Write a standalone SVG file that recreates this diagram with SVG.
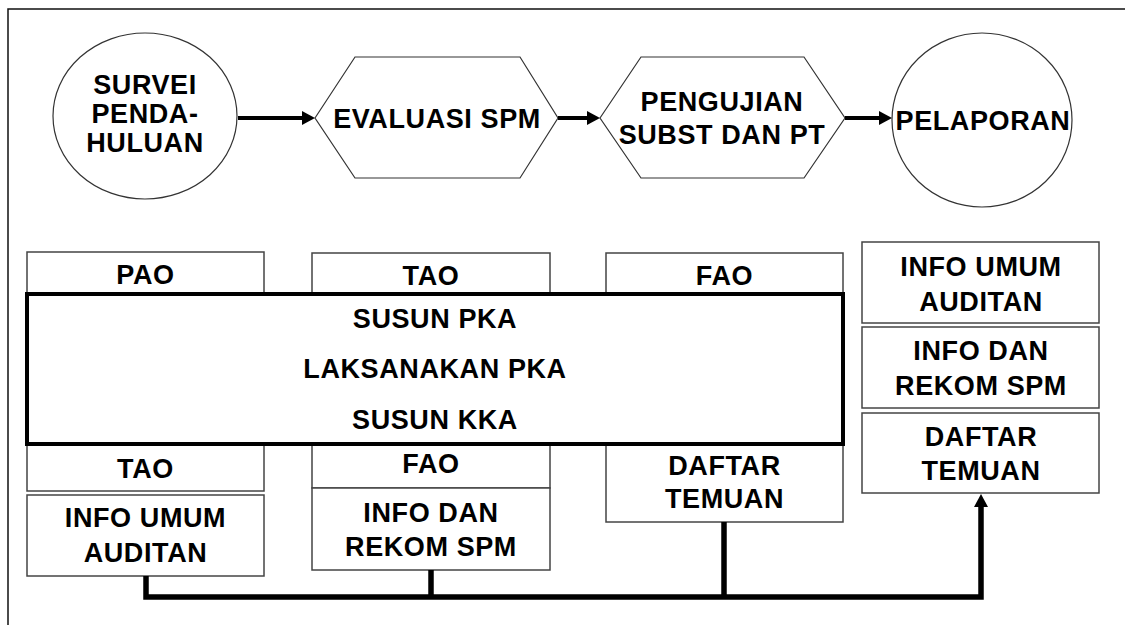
<svg xmlns="http://www.w3.org/2000/svg" width="1125" height="625" viewBox="0 0 1125 625">
<style>
text{font-family:"Liberation Sans",Arial,sans-serif;font-weight:bold;font-size:27px;fill:#000;text-anchor:middle;letter-spacing:0.6px}
.shape{fill:#fff;stroke:#333;stroke-width:1.2}
.box{fill:#fff;stroke:#444;stroke-width:1.5}
.main{fill:#fff;stroke:#000;stroke-width:4}
.arrow{fill:none;stroke:#000;stroke-width:4}
.bus{fill:none;stroke:#000;stroke-width:5.5;stroke-linejoin:miter}
</style>
<defs>
<marker id="ah" markerUnits="userSpaceOnUse" markerWidth="14" markerHeight="14" refX="0" refY="7" orient="auto">
<path d="M0,0 L13,7 L0,14 z" fill="#000"/>
</marker>
</defs>
<rect x="0" y="0" width="1125" height="625" fill="#fff"/>
<rect x="8" y="9" width="1130" height="630" fill="none" stroke="#111" stroke-width="1.5"/>

<g id="survei">
<ellipse class="shape" cx="145" cy="116" rx="92" ry="83"/>
<text x="145" y="94">SURVEI</text>
<text x="145" y="123">PENDA-</text>
<text x="145" y="152">HULUAN</text>
</g>
<g id="evaluasi">
<polygon class="shape" points="315,118 355,57 520,57 558,118 520,178 355,178"/>
<text x="437" y="128">EVALUASI SPM</text>
</g>
<g id="pengujian">
<polygon class="shape" points="600,118 641,57 804,57 845,118 804,178 641,178"/>
<text x="722" y="111">PENGUJIAN</text>
<text x="722" y="144">SUBST DAN PT</text>
</g>
<g id="pelaporan">
<ellipse class="shape" cx="982" cy="120" rx="90" ry="87"/>
<text x="983" y="130">PELAPORAN</text>
</g>

<g id="top-pao"><rect class="box" x="27" y="252" width="237" height="44"/><text x="145.5" y="284">PAO</text></g>
<g id="top-tao"><rect class="box" x="312" y="253" width="238" height="43"/><text x="431" y="285">TAO</text></g>
<g id="top-fao"><rect class="box" x="606" y="253" width="237" height="43"/><text x="724.5" y="285">FAO</text></g>

<g id="bot-tao"><rect class="box" x="27" y="440" width="237" height="51"/><text x="145.5" y="478">TAO</text></g>
<g id="bot-info-umum"><rect class="box" x="27" y="495" width="237" height="81"/><text x="145.5" y="527">INFO UMUM</text><text x="145.5" y="562">AUDITAN</text></g>
<g id="bot-fao"><rect class="box" x="312" y="440" width="238" height="48"/><text x="431" y="473">FAO</text></g>
<g id="bot-info-dan"><rect class="box" x="312" y="488" width="238" height="82"/><text x="431" y="522">INFO DAN</text><text x="431" y="556">REKOM SPM</text></g>
<g id="bot-daftar"><rect class="box" x="606" y="440" width="237" height="82"/><text x="724.5" y="475">DAFTAR</text><text x="724.5" y="508">TEMUAN</text></g>

<g id="main-box">
<rect class="main" x="27" y="294" width="816" height="150"/>
<text x="435" y="328">SUSUN PKA</text>
<text x="435" y="378">LAKSANAKAN PKA</text>
<text x="435" y="429">SUSUN KKA</text>
</g>

<g id="right-info-umum"><rect class="box" x="862" y="242" width="237" height="81"/><text x="981" y="276">INFO UMUM</text><text x="981" y="311">AUDITAN</text></g>
<g id="right-info-dan"><rect class="box" x="862" y="327" width="237" height="81"/><text x="981" y="360">INFO DAN</text><text x="981" y="395">REKOM SPM</text></g>
<g id="right-daftar"><rect class="box" x="862" y="413" width="237" height="80"/><text x="981" y="446">DAFTAR</text><text x="981" y="480">TEMUAN</text></g>

<g id="connectors">
<line class="arrow" x1="238" y1="118" x2="302" y2="118" marker-end="url(#ah)"/>
<line class="arrow" x1="558" y1="118" x2="587" y2="118" marker-end="url(#ah)"/>
<line class="arrow" x1="845" y1="118" x2="879" y2="118" marker-end="url(#ah)"/>
<path class="bus" d="M146,576 V597 H981 V507" marker-end="url(#ah)"/>
<path class="bus" d="M431,570 V597"/>
<path class="bus" d="M724,522 V597"/>
</g>
</svg>
